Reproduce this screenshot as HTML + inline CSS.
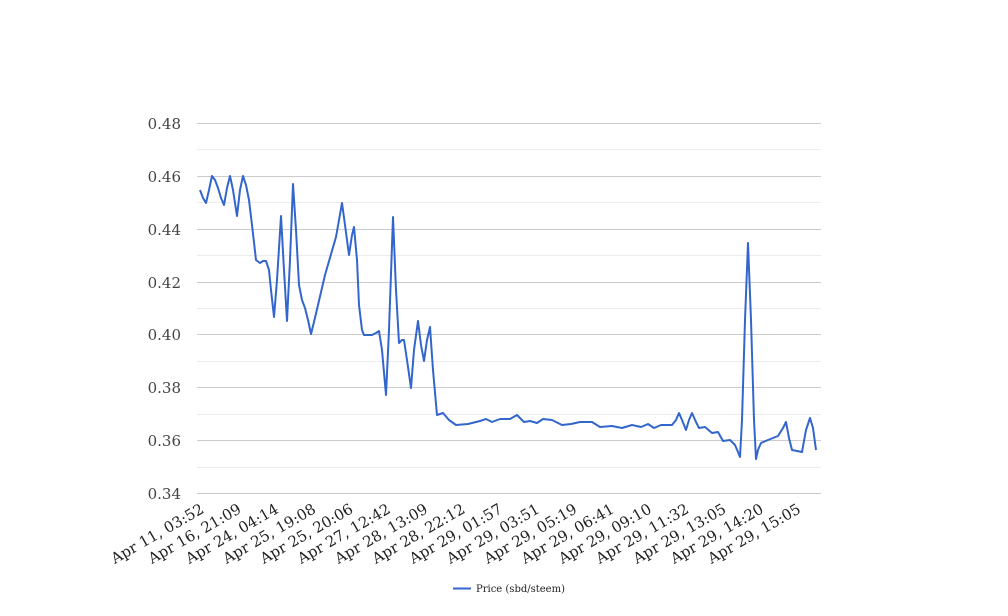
<!DOCTYPE html>
<html><head><meta charset="utf-8"><style>body{margin:0;background:#fff}svg{display:block}</style></head><body>
<svg width="1008" height="616" xmlns="http://www.w3.org/2000/svg" font-family="DejaVu Serif, serif">
<g stroke="#ececec" stroke-width="1">
<line x1="197" x2="821" y1="149.5" y2="149.5"/><line x1="197" x2="821" y1="202.5" y2="202.5"/><line x1="197" x2="821" y1="255.5" y2="255.5"/><line x1="197" x2="821" y1="308.5" y2="308.5"/><line x1="197" x2="821" y1="361.5" y2="361.5"/><line x1="197" x2="821" y1="414.5" y2="414.5"/><line x1="197" x2="821" y1="467.5" y2="467.5"/>
</g>
<g stroke="#cccccc" stroke-width="1">
<line x1="197" x2="821" y1="123.5" y2="123.5"/><line x1="197" x2="821" y1="176.5" y2="176.5"/><line x1="197" x2="821" y1="229.5" y2="229.5"/><line x1="197" x2="821" y1="282.5" y2="282.5"/><line x1="197" x2="821" y1="334.5" y2="334.5"/><line x1="197" x2="821" y1="387.5" y2="387.5"/><line x1="197" x2="821" y1="440.5" y2="440.5"/><line x1="197" x2="821" y1="493.5" y2="493.5"/>
</g>
<g fill="#444" font-size="15" text-anchor="end">
<text x="181" y="129">0.48</text><text x="181" y="182">0.46</text><text x="181" y="235">0.44</text><text x="181" y="288">0.42</text><text x="181" y="340">0.40</text><text x="181" y="393">0.38</text><text x="181" y="446">0.36</text><text x="181" y="499">0.34</text>
</g>
<g fill="#222" font-size="15" text-anchor="end">
<text transform="translate(205,512) rotate(-30)">Apr 11, 03:52</text>
<text transform="translate(242.3,512) rotate(-30)">Apr 16, 21:09</text>
<text transform="translate(279.6,512) rotate(-30)">Apr 24, 04:14</text>
<text transform="translate(316.9,512) rotate(-30)">Apr 25, 19:08</text>
<text transform="translate(354.2,512) rotate(-30)">Apr 25, 20:06</text>
<text transform="translate(391.5,512) rotate(-30)">Apr 27, 12:42</text>
<text transform="translate(428.8,512) rotate(-30)">Apr 28, 13:09</text>
<text transform="translate(466.1,512) rotate(-30)">Apr 28, 22:12</text>
<text transform="translate(503.4,512) rotate(-30)">Apr 29, 01:57</text>
<text transform="translate(540.7,512) rotate(-30)">Apr 29, 03:51</text>
<text transform="translate(578,512) rotate(-30)">Apr 29, 05:19</text>
<text transform="translate(615.3,512) rotate(-30)">Apr 29, 06:41</text>
<text transform="translate(652.6,512) rotate(-30)">Apr 29, 09:10</text>
<text transform="translate(689.9,512) rotate(-30)">Apr 29, 11:32</text>
<text transform="translate(727.2,512) rotate(-30)">Apr 29, 13:05</text>
<text transform="translate(764.5,512) rotate(-30)">Apr 29, 14:20</text>
<text transform="translate(801.8,512) rotate(-30)">Apr 29, 15:05</text>
</g>
<polyline fill="none" stroke="#3366cc" stroke-width="2" stroke-linejoin="round" points="200,190 203,198 206,203 209,190 212,176 215,180 218,188 221,198 224,205 227,188 230,176 233,190 237,216 240,190 243,176 246,185 249,200 252,225 256,260 260,263 263,261 266,261 269,270 271,290 274,317 277,280 281,216 284,270 287,321 290,260 293,184 296,230 299,285 302,300 305,308 308,320 311,334 314,322 318,305 325,275 336,237 339,220 342,203 345,225 349,255 352,235 354,227 357,260 359,305 362,330 364,335 372,335 376,333 379,331 382,350 386,395 389,330 393,217 396,290 399,343 402,340 404,340 407,360 411,388 414,350 418,321 421,345 424,361 427,340 430,327 433,370 437,415 443,413 449,420 456,425 468,424 480,421 486,419 492,422 500,419 510,419 517,415 524,422 530,421 537,423 543,419 552,420 562,425 571,424 580,422 592,422 600,427 612,426 622,428 632,425 641,427 648,424 654,428 661,425 672,425 676,420 679,413 682,420 686,430 689,420 692,413 696,422 699,428 705,427 712,433 718,432 723,441 730,440 735,445 738,452 740,457 742,420 745,320 748,243 751,320 754,420 756,459 758,450 761,443 768,440 778,436 783,428 786,422 789,438 792,450 797,451 802,452 806,430 810,418 813,428 816,450"/>
<line x1="453" x2="471" y1="588.5" y2="588.5" stroke="#3366cc" stroke-width="2"/>
<text x="476" y="592" font-size="10" fill="#222">Price (sbd/steem)</text>
</svg>
</body></html>
